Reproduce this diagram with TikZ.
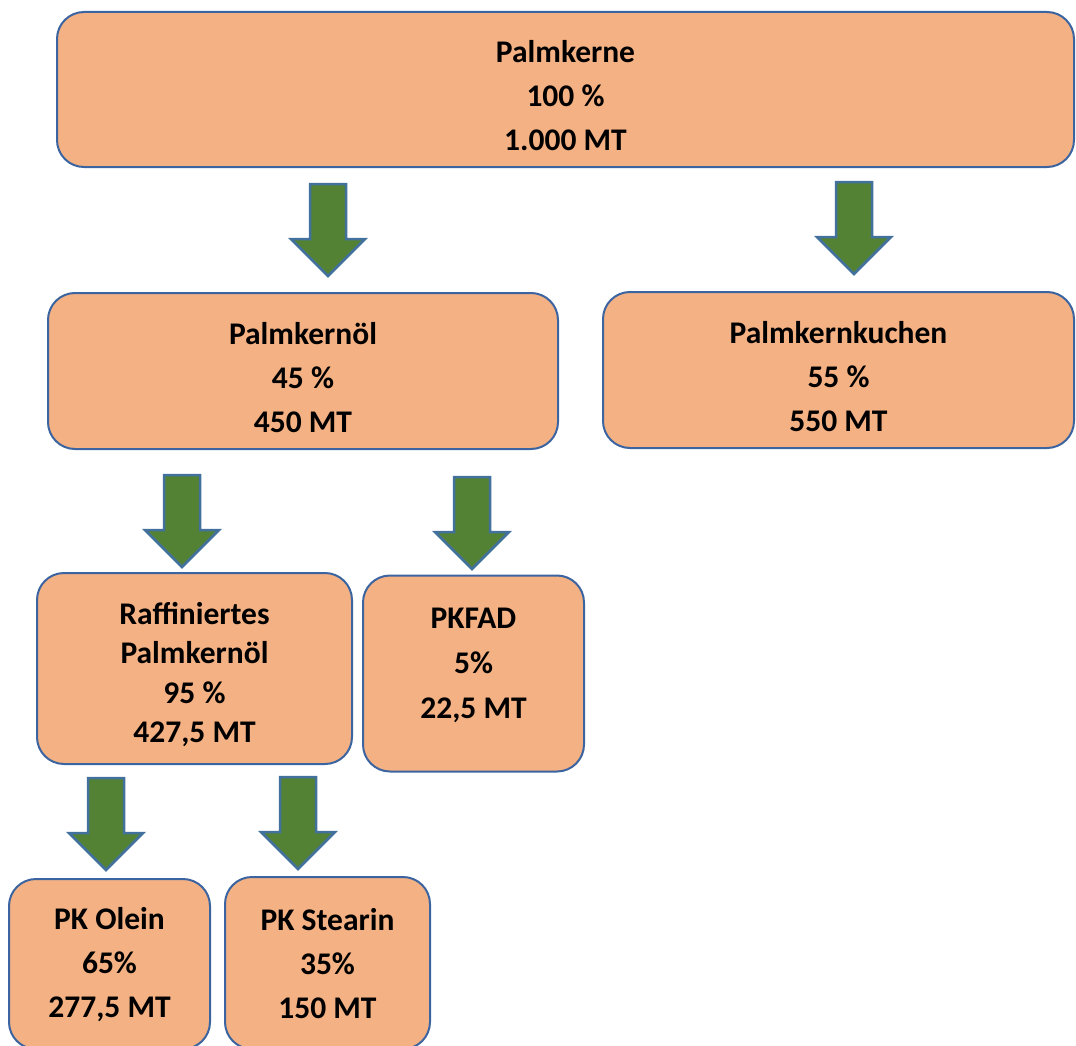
\documentclass[tikz,border=0pt]{standalone}
\usepackage{fontspec}
\setmainfont{Carlito}
\usepackage{tikz}
\usetikzlibrary{positioning}

\definecolor{boxfill}{HTML}{F4B183}
\definecolor{boxline}{HTML}{3B64A0}
\definecolor{arrowfill}{HTML}{548235}
\definecolor{arrowline}{HTML}{41719C}

\tikzset{
    flowbox/.style={draw=boxline, fill=boxfill, line width=2pt, rounded corners=27pt, inner sep=0pt},
    flowtext/.style={align=center, inner sep=0pt, font=\fontsize{31.5}{44}\selectfont\bfseries},
    downarrow/.pic={
        \draw[draw=arrowline, fill=arrowfill, line width=2.5pt, line join=miter]
            (-18,0) -- (18,0) -- (18,55) -- (37,55) -- (0,92) -- (-37,55) -- (-18,55) -- cycle;
    }
}

\begin{document}
\begin{tikzpicture}[x=1pt,y=-1pt]
        \useasboundingbox (0,0) rectangle (1076,1046);

        \node (kerne) at (565.5,89.5) [flowbox, minimum width=1017pt, minimum height=155pt] {};
        \node (kernetext) at (kerne.center) [flowtext, yshift=-6pt] {Palmkerne\\100 \%\\1.000 MT};

        \node (oel) at (303,371) [flowbox, minimum width=510pt, minimum height=156pt] {};
        \node (oeltext) at (oel.center) [flowtext, yshift=-7pt] {Palmkernöl\\45 \%\\450 MT};
        \node (kuchen) at (838.5,370) [flowbox, minimum width=471pt, minimum height=156pt] {};
        \node (kuchentext) at (kuchen.center) [flowtext, yshift=-7pt] {Palmkernkuchen\\55 \%\\550 MT};

        \node (raff) at (194.5,668.5) [flowbox, minimum width=315pt, minimum height=191pt] {};
        \node (rafftext) at (raff.center) [flowtext, yshift=-6pt,
            font=\fontsize{31.5}{39.5}\selectfont\bfseries] {Raffiniertes\\Palmkernöl\\95 \%\\427,5 MT};
        \node (pkfad) at (473.5,673.5) [flowbox, minimum width=221pt, minimum height=196pt] {};
        \node (pkfadtext) at (pkfad.center) [flowtext, yshift=8pt, font=\fontsize{31.5}{45}\selectfont\bfseries] {PKFAD\\5\%\\22,5 MT};

        \node (olein) at (109.5,964) [flowbox, minimum width=201pt, minimum height=170pt] {};
        \node (oleintext) at (olein.center) [flowtext, yshift=-1pt] {PK Olein\\65\%\\277,5 MT};
        \node (stearin) at (327.5,963) [flowbox, minimum width=205pt, minimum height=172pt] {};
        \node (stearintext) at (stearin.center) [flowtext, yshift=-1pt] {PK Stearin\\35\%\\150 MT};

        % arrows between the stages
        \pic at (328,184) {downarrow};
        \pic at (854,182) {downarrow};
        \pic at (182,475) {downarrow};
        \pic at (472,477) {downarrow};
        \pic at (106,778) {downarrow};
        \pic at (298,777) {downarrow};
    \end{tikzpicture}
\end{document}
